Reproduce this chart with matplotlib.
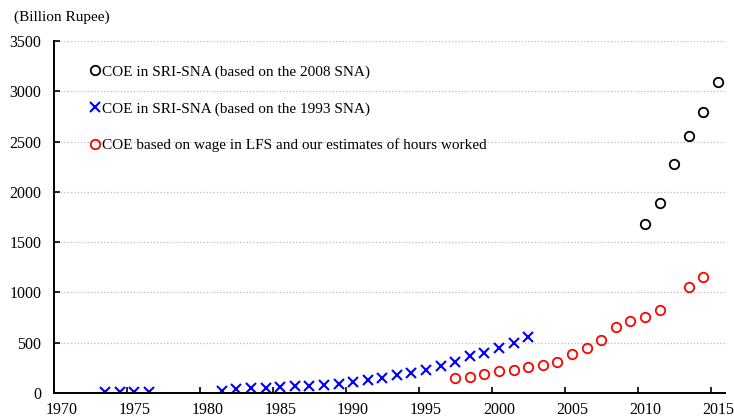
import numpy as np
import matplotlib
matplotlib.use("Agg")
import matplotlib.pyplot as plt
from matplotlib.ticker import MultipleLocator, FixedLocator, NullFormatter, FixedFormatter

plt.rcParams['font.family'] = ['Liberation Serif', 'DejaVu Serif']

# data (years plotted at mid-year, like category centres)
years_08 = [2010, 2011, 2012, 2013, 2014, 2015]
coe_08 = [1680, 1889, 2276, 2555, 2793, 3091]

years_93 = [1973, 1974, 1975, 1976,
            1981, 1982, 1983, 1984, 1985, 1986, 1987, 1988, 1989, 1990, 1991,
            1992, 1993, 1994, 1995, 1996, 1997, 1998, 1999, 2000, 2001, 2002]
coe_93 = [6, 7, 9, 11,
          23, 37, 47, 53, 56, 66, 70, 83, 90, 113, 129,
          146, 179, 202, 229, 272, 312, 368, 394, 444, 500, 560]

years_lfs = [1997, 1998, 1999, 2000, 2001, 2002, 2003, 2004, 2005, 2006,
             2007, 2008, 2009, 2010, 2011, 2013, 2014]
coe_lfs = [146, 162, 186, 216, 232, 262, 282, 312, 391, 451,
           530, 656, 712, 752, 825, 1050, 1150]

tick_years = list(range(1970, 2016, 5))

fig = plt.figure(figsize=(7.34, 4.19), dpi=100)
ax = fig.add_axes([0.0736, 0.062, 0.9144, 0.840])

ax.plot(np.array(years_08) + 0.5, coe_08, linestyle='none', marker='o',
        markersize=6.8, markerfacecolor='none', markeredgecolor='black',
        markeredgewidth=1.3, label='COE in SRI-SNA (based on the 2008 SNA)')
ax.plot(np.array(years_93) + 0.5, coe_93, linestyle='none', marker='x',
        markersize=6.5, color='#0000ff', markeredgewidth=1.5,
        label='COE in SRI-SNA (based on the 1993 SNA)')
ax.plot(np.array(years_lfs) + 0.5, coe_lfs, linestyle='none', marker='o',
        markersize=6.8, markerfacecolor='none', markeredgecolor='#ff0000',
        markeredgewidth=1.3,
        label='COE based on wage in LFS and our estimates of hours worked')

ax.set_xlim(1970, 2016)
ax.set_ylim(0, 3500)

# tick marks at year boundaries, labels centred on the year
ax.xaxis.set_major_locator(FixedLocator(tick_years))
ax.xaxis.set_major_formatter(NullFormatter())
ax.xaxis.set_minor_locator(FixedLocator([y + 0.5 for y in tick_years]))
ax.xaxis.set_minor_formatter(FixedFormatter([str(y) for y in tick_years]))
ax.tick_params(axis='x', which='major', direction='in', length=4, width=1.2)
ax.tick_params(axis='x', which='minor', length=0, pad=6.5, labelsize=11.5)

ax.yaxis.set_major_locator(MultipleLocator(500))
ax.tick_params(axis='y', direction='in', length=4, width=1.2, pad=9, labelsize=11.5)

ax.grid(True, axis='y', linestyle=':', linewidth=0.9, color='#bbbbbb')
ax.set_axisbelow(True)

for s in ['top', 'right']:
    ax.spines[s].set_visible(False)
for s in ['left', 'bottom']:
    ax.spines[s].set_linewidth(1.4)

ax.legend(loc='upper left', bbox_to_anchor=(0.1227, 0.845), bbox_transform=fig.transFigure,
          frameon=False, fontsize=11, handlelength=0.6, handletextpad=0.2,
          labelspacing=1.5, borderaxespad=0, borderpad=0)

fig.text(14 / 734, 1 - 17 / 419, '(Billion Rupee)', fontsize=11, va='center', ha='left')

fig.savefig('out.png', dpi=100)
plt.close(fig)
